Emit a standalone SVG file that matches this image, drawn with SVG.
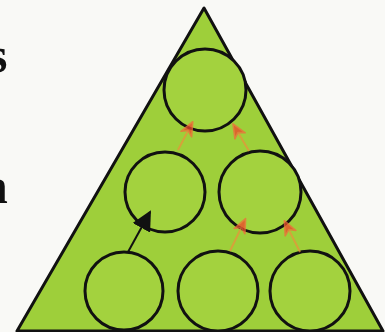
<svg xmlns="http://www.w3.org/2000/svg" width="385" height="332" viewBox="0 0 385 332">
<defs>
<style>
.frag{font-family:"Liberation Serif","DejaVu Serif",serif;font-weight:bold;font-size:50px;fill:#111}
.tri{fill:#9ecf3a;stroke:#111;stroke-width:3;stroke-linejoin:round}
.node{fill:#a3d23e;stroke:#111;stroke-width:3}
.push{stroke:#e8943a;stroke-width:2;fill:none;opacity:0.75;marker-end:url(#red)}
.step{stroke:#111;stroke-width:2;fill:none;marker-end:url(#blk)}
</style>
<marker id="red" viewBox="0 0 16 16" refX="9" refY="8" markerWidth="16" markerHeight="16" markerUnits="userSpaceOnUse" orient="auto">
<path d="M1 2 L15 8 L1 14 L5 8 Z" fill="#f0442a" stroke="#f26a3a" stroke-width="1.5" stroke-linejoin="round"/>
</marker>
<marker id="blk" viewBox="0 0 10 10" refX="9" refY="5" markerWidth="20" markerHeight="20" markerUnits="userSpaceOnUse" orient="auto">
<path d="M0 0 L10 5 L0 10 Z" fill="#111"/>
</marker>
</defs>
<rect width="385" height="332" fill="#f9f9f6"/>
<text class="frag" x="-12" y="72">s</text>
<text class="frag" x="-20" y="203">n</text>
<polygon class="tri" points="204,8 17,331 383,331"/>
<g id="n-top"><circle class="node" cx="205" cy="90" r="41"/></g>
<g id="n-mid-left"><circle class="node" cx="165" cy="192" r="40"/></g>
<g id="n-mid-right"><circle class="node" cx="260" cy="192" r="41"/></g>
<g id="n-bot-left"><circle class="node" cx="124" cy="291" r="39"/></g>
<g id="n-bot-mid"><circle class="node" cx="218" cy="291" r="40"/></g>
<g id="n-bot-right"><circle class="node" cx="310" cy="291" r="40"/></g>
<g id="connectors">
<path class="push" d="M178 150 L190 127"/>
<path class="push" d="M249 151 L236 129"/>
<path class="push" d="M230 251 L243 224"/>
<path class="push" d="M300 252 L287 226"/>
<path class="step" d="M128 252 L150 212"/>
</g>
</svg>
